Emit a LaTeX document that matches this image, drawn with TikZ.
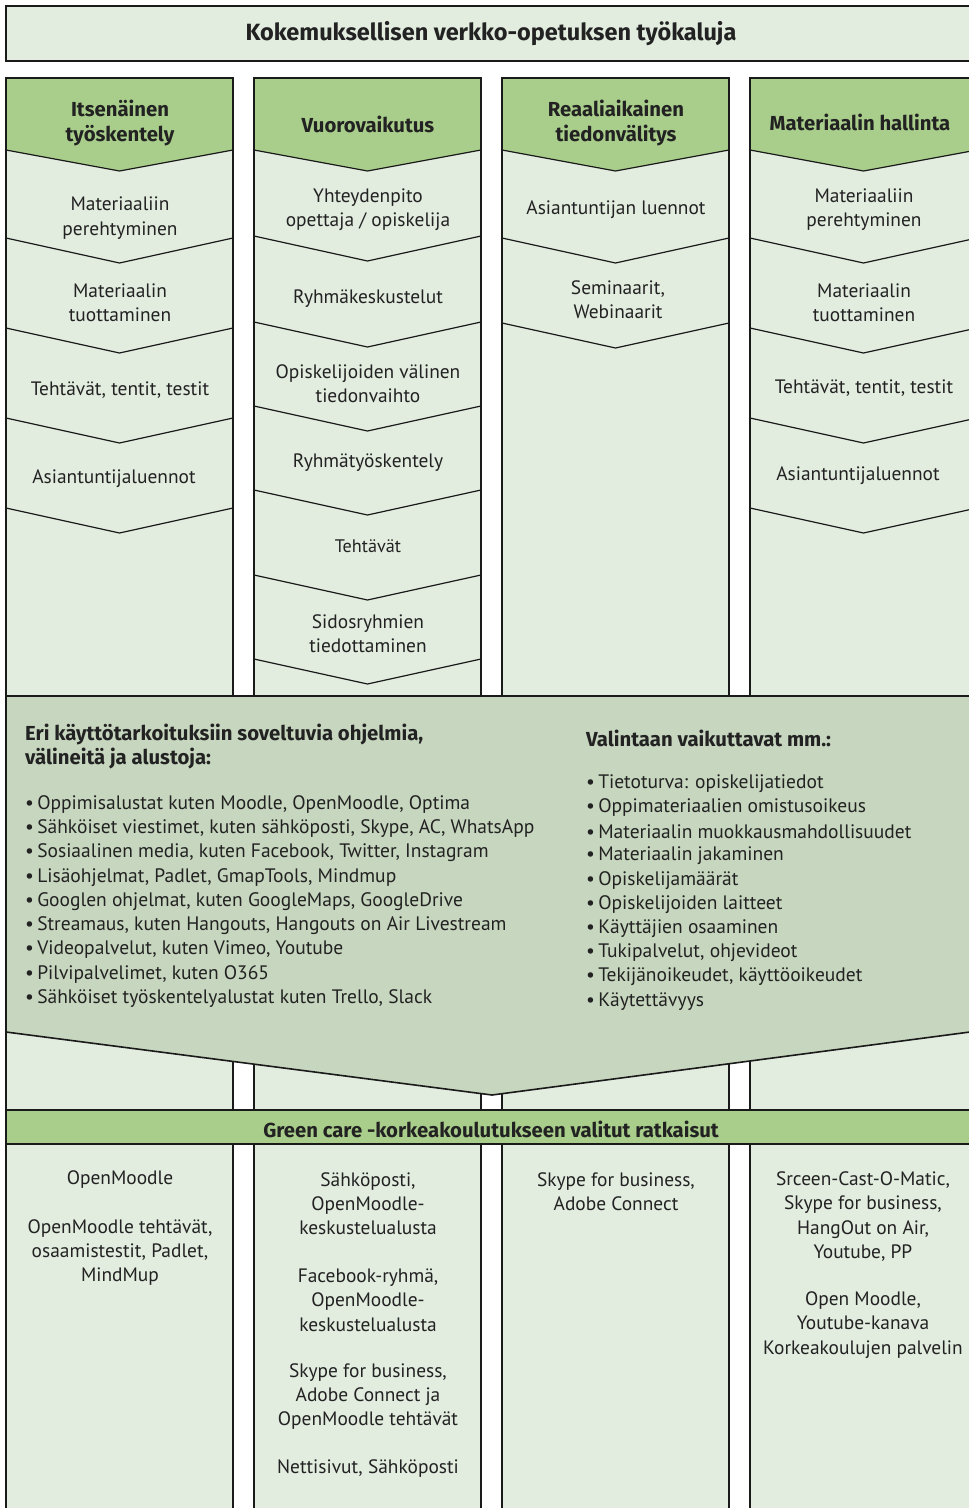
\documentclass[tikz,border=0pt]{standalone}
\usepackage{fontspec}
\setmainfont{PT Sans}
\newfontfamily\hfont{Fira Sans}
\definecolor{lightg}{HTML}{E2ECDF}
\definecolor{headg}{HTML}{A9CE8B}
\definecolor{midg}{HTML}{C7D6BE}
\definecolor{edge}{HTML}{1A1A1A}
\definecolor{txt}{HTML}{222222}
\begin{document}
\begin{tikzpicture}[x=1pt,y=-1pt,
  colbox/.style={fill=lightg,draw=edge,line width=1.6pt},
  sepline/.style={draw=edge,line width=1.2pt},
  body/.style={font=\fontsize{19.4}{24.3}\selectfont,text=txt,align=center,inner sep=0pt,yshift=-2pt},
  smallbody/.style={font=\fontsize{18.2}{24}\selectfont,text=txt,align=center,inner sep=0pt,yshift=-1pt},
  head/.style={font=\hfont\bfseries\fontsize{20.3}{25}\selectfont,text=txt,align=center,inner sep=0pt,yshift=-2pt},
  listtext/.style={font=\fontsize{19.5}{24.3}\selectfont,text=txt,anchor=west,inner sep=0pt,yshift=-1.5pt},
  listhead/.style={font=\hfont\bfseries\fontsize{20.3}{24}\selectfont,text=txt,align=left,anchor=west,inner sep=0pt,yshift=-1.5pt}]
\useasboundingbox (0,0) rectangle (969,1508);
\clip (0,0) rectangle (969,1508);
\fill[white] (0,0) rectangle (969,1508);

% columns
\foreach \i in {0,1,2,3}{
  \pgfmathsetmacro{\xl}{6+248*\i}
  \pgfmathsetmacro{\xr}{\xl+227}
  \pgfmathsetmacro{\cx}{\xl+113.5}
  \path[colbox] (\xl,78) rectangle (\xr,1530);
  \path[fill=headg] (\xl,78) -- (\xr,78) -- (\xr,150) -- (\cx,171) -- (\xl,150) -- cycle;
  \draw[sepline] (\xl,150) -- (\cx,171) -- (\xr,150);
  \draw[edge,line width=1.6pt] (\xl,1530) -- (\xl,78) -- (\xr,78) -- (\xr,1530);
}
% chevron separators
\foreach \i/\ys in {0/238,0/328,0/418,0/508,
                    1/236,1/322,1/406,1/490,1/575,1/659,
                    2/238,2/323,
                    3/238,3/328,3/418,3/508}{
  \pgfmathsetmacro{\xl}{6+248*\i}
  \pgfmathsetmacro{\xr}{\xl+227}
  \pgfmathsetmacro{\cx}{\xl+113.5}
  \pgfmathsetmacro{\yt}{\ys+25}
  \draw[sepline] (\xl,\ys) -- (\cx,\yt) -- (\xr,\ys);
}

% title
\path[colbox] (6,6) rectangle (985,61);
\node[head,font=\hfont\bfseries\fontsize{23.5}{26}\selectfont] (title) at (491,32) {Kokemuksellisen verkko-opetuksen työkaluja};

% column headers
\node[head] (h1) at (120,121.5) {Itsenäinen\\työskentely};
\node[head] (h2) at (368,122) {Vuorovaikutus};
\node[head] (h3) at (616,121.5) {Reaaliaikainen\\tiedonvälitys};
\node[head] (h4) at (860,120) {Materiaalin hallinta};

% column 1
\node[body] (a1) at (120,216) {Materiaaliin\\perehtyminen};
\node[body] (a2) at (120,301) {Materiaalin\\tuottaminen};
\node[body] (a3) at (120,388) {Tehtävät, tentit, testit};
\node[body] (a4) at (114,477) {Asiantuntijaluennot};
% column 2
\node[body] (b1) at (368,207.5) {Yhteydenpito\\opettaja / opiskelija};
\node[body] (b2) at (368,297) {Ryhmäkeskustelut};
\node[body] (b3) at (368,382) {Opiskelijoiden välinen\\tiedonvaihto};
\node[body] (b4) at (368,461) {Ryhmätyöskentely};
\node[smallbody] (b5) at (368,545) {Tehtävät};
\node[body] (b6) at (368,632) {Sidosryhmien\\tiedottaminen};
% column 3
\node[body] (c1) at (616,208) {Asiantuntijan luennot};
\node[body] (c2) at (618,298) {Seminaarit,\\Webinaarit};
% column 4
\node[body] (d1) at (864,207.5) {Materiaaliin\\perehtyminen};
\node[body] (d2) at (864,301) {Materiaalin\\tuottaminen};
\node[body] (d3) at (864,386) {Tehtävät, tentit, testit};
\node[body] (d4) at (858,474) {Asiantuntijaluennot};

% middle box
\path[fill=midg,draw=edge,line width=1.6pt] (6,696) -- (985,696) -- (985,1030) -- (492,1095) -- (6,1032) -- cycle;
\node[listhead] (lh) at (25,745) {Eri käyttötarkoituksiin soveltuvia ohjelmia,\\välineitä ja alustoja:};
\node[listhead] (rh) at (586,737) {Valintaan vaikuttavat mm.:};
\foreach \t [count=\k from 0] in {
  {Oppimisalustat kuten Moodle, OpenMoodle, Optima},
  {Sähköiset viestimet, kuten sähköposti, Skype, AC, WhatsApp},
  {Sosiaalinen media, kuten Facebook, Twitter, Instagram},
  {Lisäohjelmat, Padlet, GmapTools, Mindmup},
  {Googlen ohjelmat, kuten GoogleMaps, GoogleDrive},
  {Streamaus, kuten Hangouts, Hangouts on Air Livestream},
  {Videopalvelut, kuten Vimeo, Youtube},
  {Pilvipalvelimet, kuten O365},
  {Sähköiset työskentelyalustat kuten Trello, Slack}}{
  \node[listtext] (l\k) at (25,{803+24.25*\k}) {•\,\t};
}
\foreach \t [count=\k from 0] in {
  {Tietoturva: opiskelijatiedot},
  {Oppimateriaalien omistusoikeus},
  {Materiaalin muokkausmahdollisuudet},
  {Materiaalin jakaminen},
  {Opiskelijamäärät},
  {Opiskelijoiden laitteet},
  {Käyttäjien osaaminen},
  {Tukipalvelut, ohjevideot},
  {Tekijänoikeudet, käyttöoikeudet},
  {Käytettävyys}}{
  \node[listtext] (r\k) at (586,{782+24.2*\k}) {•\,\t};
}

% green band
\path[fill=headg,draw=edge,line width=1.6pt] (6,1110) rectangle (985,1144);
\node[head] (band) at (491,1127) {Green care -korkeakoulutukseen valitut ratkaisut};

% bottom texts
\node[body] (e1) at (120,1178) {OpenMoodle};
\node[body] (e2) at (120,1250.5) {OpenMoodle tehtävät,\\osaamistestit, Padlet,\\MindMup};
\node[body] (f1) at (368,1201.5) {Sähköposti,\\OpenMoodle-\\keskustelualusta};
\node[body] (f2) at (368,1298) {Facebook-ryhmä,\\OpenMoodle-\\keskustelualusta};
\node[body] (f3) at (368,1394.5) {Skype for business,\\Adobe Connect ja\\OpenMoodle tehtävät};
\node[body] (f4) at (368,1467) {Nettisivut, Sähköposti};
\node[body] (g1) at (616,1190) {Skype for business,\\Adobe Connect};
\node[body] (k1) at (863,1214.5) {Srceen-Cast-O-Matic,\\Skype for business,\\HangOut on Air,\\Youtube, PP};
\node[body] (k2) at (863,1323) {Open Moodle,\\Youtube-kanava\\Korkeakoulujen palvelin};
\end{tikzpicture}
\end{document}
